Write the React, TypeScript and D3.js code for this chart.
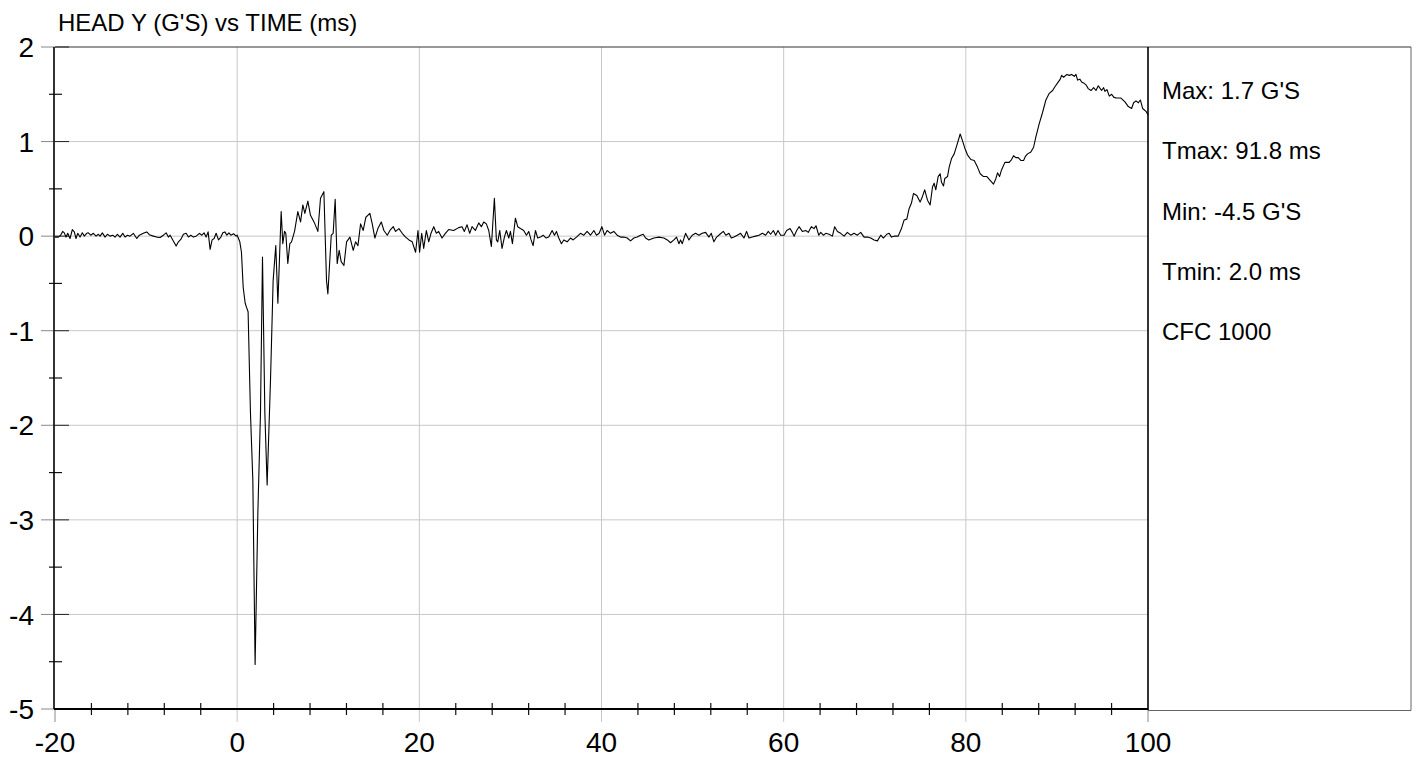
import React from 'react';
import * as d3 from 'd3';

type Pt = [number, number];

// time (ms), head Y acceleration (G's)
const preImpact: Pt[] = [
  [-20, -0.01], [-19.63, -0.01], [-19.38, 0.01], [-19.16, 0.05], [-18.98, 0.035], [-18.79, -0.01],
  [-18.6, 0.03], [-18.35, -0.025], [-18.1, 0.07], [-17.88, 0.045], [-17.69, -0.025], [-17.5, 0.03],
  [-17.25, -0.01], [-17.0, 0.035], [-16.78, 0.0], [-16.52, 0.03], [-16.34, 0.035], [-16.08, 0.01],
  [-15.79, 0.03], [-15.49, 0.0], [-15.24, 0.02], [-15.05, 0.0], [-14.8, 0.035], [-14.5, -0.01],
  [-14.25, 0.02], [-13.96, 0.0], [-13.66, 0.01], [-13.41, -0.01], [-13.15, 0.02], [-12.86, -0.01],
  [-12.56, 0.03], [-12.31, -0.01], [-12.05, 0.01], [-11.76, 0.0], [-11.4, 0.03], [-11.02, -0.025],
  [-10.74, 0.01], [-10.3, 0.03], [-9.93, 0.045], [-9.64, 0.015], [-9.2, 0.0], [-8.83, -0.01],
  [-8.46, -0.015], [-8.1, 0.01], [-7.8, 0.035], [-7.55, -0.01], [-7.36, 0.01], [-7.07, -0.04],
  [-6.7, -0.105], [-6.45, -0.06], [-6.19, -0.035], [-5.9, 0.02], [-5.6, 0.03], [-5.35, -0.01],
  [-5.09, 0.01], [-4.8, -0.01], [-4.51, 0.0], [-4.14, 0.03], [-3.88, 0.01], [-3.63, 0.035],
  [-3.41, -0.01], [-3.19, 0.045], [-2.97, -0.14], [-2.75, -0.04], [-2.53, -0.025], [-2.31, 0.03],
  [-2.05, -0.04], [-1.79, -0.01], [-1.57, 0.035], [-1.35, 0.045], [-1.13, 0.01], [-0.91, 0.035],
  [-0.69, 0.01], [-0.4, 0.025], [-0.11, 0.0],
];

const impactPulse: Pt[] = [
  [0.0, 0.01], [0.29, -0.06], [0.47, -0.17], [0.66, -0.54], [0.88, -0.71], [1.02, -0.75],
  [1.2, -0.8], [1.46, -1.87], [1.72, -2.58], [1.97, -4.53], [2.27, -2.93], [2.56, -1.87],
  [2.78, -0.22], [3.04, -1.87], [3.29, -2.63], [3.66, -1.52], [3.95, -0.47], [4.24, -0.1],
  [4.47, -0.71], [4.83, 0.26], [5.01, -0.08], [5.2, 0.05], [5.34, 0.03], [5.56, -0.29],
  [5.78, -0.08], [5.97, -0.06], [6.3, 0.05], [6.66, 0.26], [6.96, 0.15], [7.21, 0.33],
  [7.43, 0.24], [7.76, 0.37], [8.05, 0.22], [8.53, 0.13], [8.86, 0.05], [9.15, 0.4],
  [9.52, 0.47], [9.81, -0.47], [9.96, -0.61], [10.33, 0.01], [10.54, 0.03], [10.76, 0.39],
  [10.98, -0.29], [11.2, -0.15], [11.42, -0.27], [11.72, -0.31], [12.01, -0.06], [12.38, -0.01],
  [12.74, -0.15], [13.0, -0.06], [13.26, -0.1], [13.55, 0.13], [13.84, 0.06], [14.13, 0.2],
  [14.57, 0.24], [14.83, 0.13], [15.12, -0.02], [15.45, 0.08], [15.82, 0.15], [16.11, 0.06],
  [16.48, 0.01], [16.77, 0.06], [17.14, 0.1], [17.39, 0.05], [17.76, 0.08], [18.12, 0.03],
  [18.49, -0.01], [18.86, -0.04], [19.22, -0.06], [19.59, -0.17], [19.85, 0.06],
];

const settle: Pt[] = [
  [20.03, -0.17], [20.26, 0.03], [20.48, -0.13], [20.77, 0.06], [21.03, -0.06], [21.28, 0.03],
  [21.58, 0.1], [21.87, 0.03], [22.12, 0.05], [22.49, -0.02], [22.86, 0.03], [23.22, 0.07],
  [23.77, 0.06], [24.32, 0.09], [24.69, 0.1], [24.94, 0.05], [25.24, 0.12], [25.53, 0.03],
  [25.79, 0.1], [26.15, 0.06], [26.52, 0.14], [26.81, 0.1], [27.07, 0.15], [27.36, 0.13],
  [27.62, 0.06], [27.91, -0.11], [28.24, 0.4], [28.46, -0.04], [28.61, -0.06], [28.83, 0.06],
  [29.08, -0.13], [29.34, -0.01], [29.56, 0.06], [29.82, -0.02], [30.0, 0.05], [30.22, -0.08],
  [30.55, 0.19], [30.8, 0.1], [31.1, 0.08], [31.46, 0.06], [31.76, 0.01], [32.01, 0.05],
  [32.27, -0.04], [32.49, -0.1], [32.75, 0.06], [33.0, -0.02], [33.3, -0.01], [33.59, 0.01],
  [33.92, -0.02], [34.21, -0.01], [34.58, 0.06], [34.84, 0.01], [35.05, 0.05], [35.31, -0.02],
  [35.6, -0.08], [35.86, -0.04], [36.23, -0.06], [36.59, -0.02], [36.89, -0.04], [37.25, -0.01],
  [37.69, 0.03], [38.06, 0.01], [38.42, 0.05], [38.79, 0.01], [39.16, 0.06], [39.45, 0.01],
  [39.74, 0.03], [40.04, 0.1], [40.33, 0.01], [40.62, 0.06], [40.99, 0.03], [41.35, 0.05],
  [41.72, 0.01], [42.09, -0.01], [42.45, -0.01], [42.82, -0.02], [43.19, -0.05], [43.55, -0.02],
  [43.92, -0.01], [44.29, 0.01], [44.58, 0.02], [44.84, -0.02], [45.2, -0.04],
];

const quietPhase: Pt[] = [
  [45.75, -0.02], [46.3, -0.01], [46.85, -0.02], [47.23, -0.04], [47.58, -0.07], [47.95, -0.04],
  [48.24, -0.01], [48.5, -0.08], [48.68, -0.04], [48.87, -0.08], [49.23, 0.03], [49.6, -0.04],
  [49.96, 0.01], [50.33, 0.03], [50.7, 0.01], [51.06, 0.03], [51.43, 0.04], [51.8, -0.01],
  [52.05, 0.03], [52.34, -0.06], [52.64, -0.01], [53.0, 0.02], [53.37, 0.05], [53.66, 0.01],
  [53.99, 0.03], [54.25, -0.02], [54.54, -0.01], [54.91, 0.01], [55.27, 0.03], [55.64, -0.02],
  [55.93, 0.05], [56.19, -0.02], [56.56, -0.01], [56.92, 0.0], [57.29, 0.01], [57.66, 0.03],
  [58.02, 0.01], [58.31, 0.05], [58.57, 0.02], [58.87, 0.06], [59.12, 0.01], [59.38, 0.06],
  [59.67, 0.01], [60.04, 0.01], [60.33, 0.06], [60.7, 0.08], [60.95, 0.04], [61.14, 0.0],
  [61.43, 0.06], [61.69, 0.1], [62.05, 0.05], [62.42, 0.06], [62.71, 0.04], [63.04, 0.1],
  [63.33, 0.08], [63.55, 0.11], [63.85, 0.01], [64.07, 0.04], [64.36, 0.01], [64.62, 0.03],
  [64.98, 0.02], [65.35, 0.0], [65.6, 0.1], [65.9, 0.05], [66.26, 0.03], [66.63, 0.0],
  [66.99, 0.04], [67.36, 0.01], [67.73, 0.03], [68.09, 0.01], [68.46, 0.04], [68.83, -0.01],
  [69.19, -0.01], [69.56, -0.02], [69.93, -0.04], [70.29, -0.05], [70.66, 0.01], [70.95, -0.02],
  [71.32, 0.02], [71.58, 0.03], [71.84, -0.01], [72.13, 0.0], [72.57, 0.0],
];

const rebound: Pt[] = [
  [72.93, 0.08], [73.22, 0.17], [73.52, 0.18], [73.77, 0.29], [74.03, 0.35], [74.25, 0.45],
  [74.62, 0.43], [74.98, 0.36], [75.24, 0.42], [75.49, 0.49], [75.79, 0.38], [76.08, 0.33],
  [76.34, 0.52], [76.52, 0.56], [76.7, 0.49], [76.96, 0.63], [77.18, 0.66], [77.33, 0.57],
  [77.55, 0.53], [77.69, 0.61], [77.99, 0.63], [78.17, 0.73], [78.43, 0.82], [78.72, 0.87],
  [79.01, 0.96], [79.38, 1.08], [79.63, 1.01], [79.89, 0.93], [80.18, 0.86], [80.55, 0.81],
  [80.92, 0.8], [81.28, 0.73], [81.58, 0.66], [81.94, 0.63], [82.31, 0.63], [82.67, 0.59],
  [83.04, 0.55], [83.3, 0.61], [83.48, 0.67], [83.7, 0.63], [83.92, 0.7], [84.29, 0.78],
  [84.76, 0.78], [85.02, 0.81], [85.24, 0.85], [85.49, 0.83], [85.75, 0.83], [86.04, 0.8],
  [86.34, 0.8], [86.52, 0.84], [86.78, 0.87], [87.14, 0.89], [87.44, 0.94], [87.69, 1.05],
  [88.06, 1.19], [88.43, 1.31], [88.79, 1.44], [89.16, 1.51], [89.53, 1.54], [89.78, 1.58],
  [90.08, 1.62], [90.37, 1.66], [90.51, 1.7], [90.73, 1.68], [91.1, 1.71], [91.36, 1.7],
  [91.61, 1.71], [91.91, 1.69], [92.09, 1.71], [92.27, 1.65], [92.53, 1.66], [92.71, 1.63],
  [92.93, 1.62], [93.19, 1.6], [93.44, 1.56], [93.74, 1.54], [94.03, 1.57], [94.29, 1.54],
  [94.54, 1.59], [94.76, 1.56], [94.91, 1.54], [95.13, 1.57], [95.27, 1.53], [95.49, 1.55],
  [95.75, 1.48], [96.01, 1.5], [96.23, 1.47], [96.48, 1.46], [97.03, 1.46], [97.47, 1.42],
  [97.84, 1.37], [98.2, 1.35], [98.42, 1.41], [98.68, 1.43], [98.94, 1.41], [99.16, 1.44],
  [99.41, 1.35], [99.78, 1.32], [100.0, 1.28],
];

const xTicks = [-20, 0, 20, 40, 60, 80, 100];
const yTicks = [2, 1, 0, -1, -2, -3, -4, -5];
const statLines = ["Max: 1.7 G'S", "Tmax: 91.8 ms", "Min: -4.5 G'S", "Tmin: 2.0 ms", "CFC 1000"];
const chartTitle = "HEAD Y (G'S) vs TIME (ms)";

export default function App() {
  const W = 1418;
  const H = 757;
  const left = 55, right = 1148, top = 47, bottom = 709;
  const panelRight = 1411;
  const x = d3.scaleLinear().domain([-20, 100]).range([left, right]);
  const y = d3.scaleLinear().domain([-5, 2]).range([bottom, top]);
  const series = [...preImpact, ...impactPulse, ...settle, ...quietPhase, ...rebound];
  const line = d3.line<Pt>().x(d => x(d[0])).y(d => y(d[1]));
  const minorX = d3.range(-20, 100.001, 4).filter(v => Math.abs(v % 20) > 1e-6);
  const minorY = d3.range(-5, 2.001, 0.5).filter(v => Math.abs(v % 1) > 1e-6);
  const font = "'Liberation Sans', Arial, sans-serif";
  const grid = '#c8c8c8';

  return (
    <svg width={W} height={H} style={{ position: 'absolute', left: 0, top: 0, background: '#fff' }} fontFamily={font}>
      <rect x={0} y={0} width={W} height={H} fill="#fff" />
      {/* grid */}
      {xTicks.filter(v => v > -20 && v < 100).map(v => (
        <line key={'gx' + v} x1={x(v)} x2={x(v)} y1={top} y2={bottom + 13} stroke={grid} strokeWidth={1} />
      ))}
      <line x1={x(100)} x2={x(100)} y1={bottom} y2={bottom + 13} stroke="#888" strokeWidth={1} />
      <line x1={x(-20)} x2={x(-20)} y1={bottom} y2={bottom + 13} stroke="#888" strokeWidth={1} />
      {yTicks.filter(v => v < 2 && v > -5).map(v => (
        <line key={'gy' + v} x1={left} x2={right} y1={y(v)} y2={y(v)} stroke={grid} strokeWidth={1} />
      ))}
      {yTicks.map(v => (
        <line key={'ty' + v} x1={left - 14} x2={left} y1={y(v)} y2={y(v)} stroke="#888" strokeWidth={1} />
      ))}
      {yTicks.filter(v => v > -5).map(v => (
        <line key={'tyi' + v} x1={left} x2={left + 14} y1={y(v)} y2={y(v)} stroke="#222" strokeWidth={1} />
      ))}
      {/* minor ticks */}
      {minorX.map(v => (
        <line key={'mx' + v} x1={x(v)} x2={x(v)} y1={bottom - 6} y2={bottom + 6} stroke="#111" strokeWidth={1.2} />
      ))}
      {minorY.map(v => (
        <line key={'my' + v} x1={left - 6} x2={left + 7} y1={y(v)} y2={y(v)} stroke="#111" strokeWidth={1.2} />
      ))}
      {/* data */}
      <path d={line(series) || ''} fill="none" stroke="#000" strokeWidth={1.1} strokeLinejoin="round" />
      {/* frame */}
      <line x1={left} x2={panelRight} y1={top} y2={top} stroke="#333" strokeWidth={1.2} />
      <line x1={left - 1} x2={left - 1} y1={top} y2={bottom} stroke="#000" strokeWidth={1.6} />
      <line x1={left - 1} x2={right} y1={bottom} y2={bottom} stroke="#000" strokeWidth={2} />
      <line x1={right} x2={right} y1={top} y2={bottom + 1} stroke="#000" strokeWidth={1.6} />
      <line x1={right} x2={panelRight} y1={bottom + 1.5} y2={bottom + 1.5} stroke="#666" strokeWidth={1} />
      <line x1={panelRight} x2={panelRight} y1={top} y2={bottom + 1.5} stroke="#666" strokeWidth={1} />
      {/* tick labels */}
      {yTicks.map(v => (
        <text key={'ly' + v} x={34} y={y(v)} dy="0.36em" textAnchor="end" fontSize={28} fill="#000">{v}</text>
      ))}
      {xTicks.map(v => (
        <text key={'lx' + v} x={x(v)} y={752} textAnchor="middle" fontSize={28} fill="#000">{v}</text>
      ))}
      {/* title */}
      <text x={58} y={31} fontSize={24} fill="#000">{chartTitle}</text>
      {/* stats panel */}
      {statLines.map((s, i) => (
        <text key={'s' + i} x={1162} y={99 + i * 60.3} fontSize={24} fill="#000">{s}</text>
      ))}
    </svg>
  );
}
